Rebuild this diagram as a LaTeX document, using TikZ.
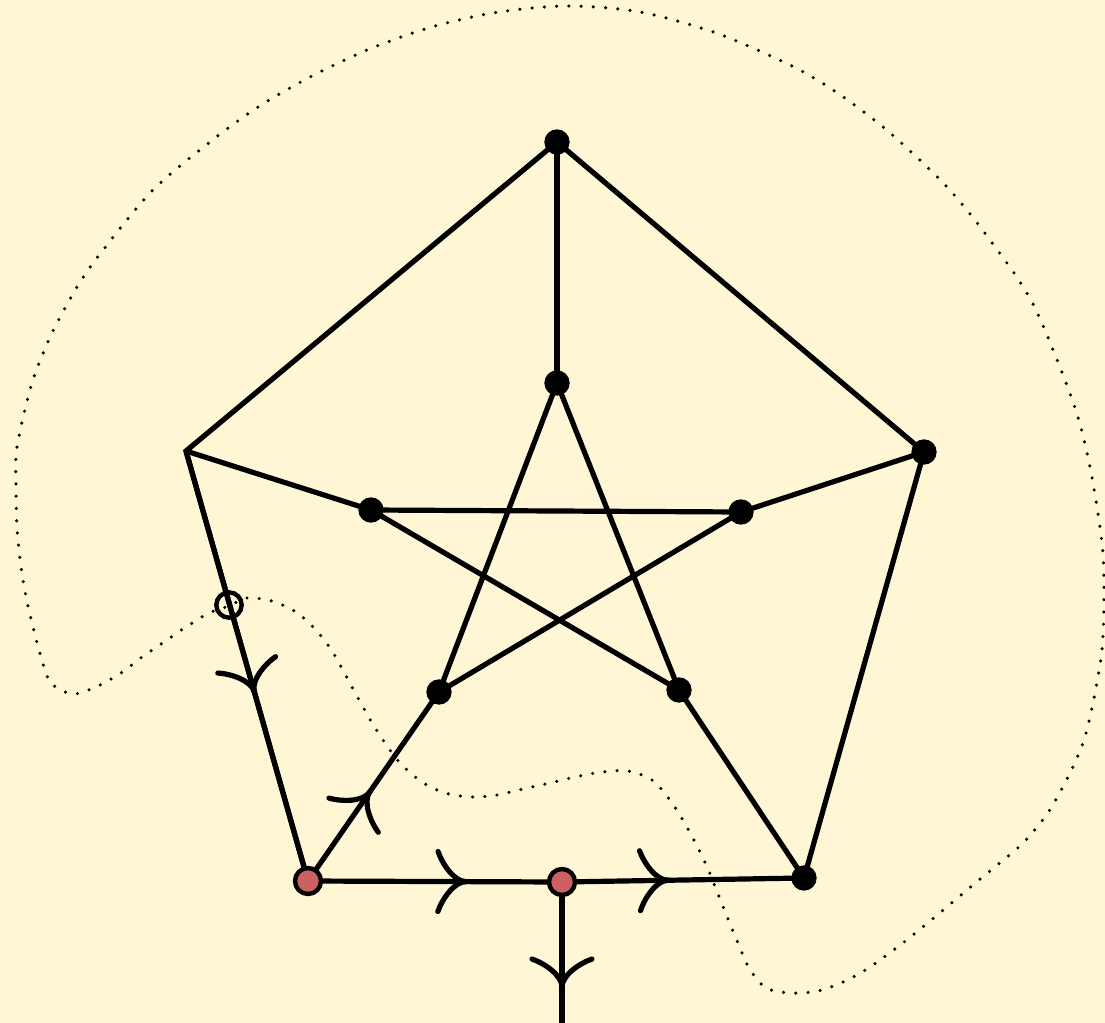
\documentclass[tikz,border=0pt]{standalone}
\usetikzlibrary{calc}
\definecolor{bgcream}{RGB}{255,246,214}
\definecolor{vred}{RGB}{205,96,96}
\tikzset{
  edge/.style={line width=3.9pt, line cap=butt, line join=miter},
  barbline/.style={line width=3.9pt, line cap=round},
  vtx/.style={circle, fill=black, inner sep=0pt, minimum size=19pt},
  rvtx/.style={circle, fill=vred, draw=black, line width=3.3pt, inner sep=0pt, minimum size=19.5pt},
  ovtx/.style={circle, draw=black, line width=3.3pt, inner sep=0pt, minimum size=19pt},
  dotcurve/.style={line width=2.6pt, line cap=round, dash pattern=on 0pt off 9.2pt},
  barb/.pic={\draw[barbline] (-28,-30) .. controls (-24,-18) and (-12,0) .. (0,0) .. controls (-12,0) and (-24,18) .. (-28,30);}
}
\begin{document}
\begin{tikzpicture}[x=0.75pt,y=-0.75pt]
\fill[bgcream] (0,0) rectangle (1105,1023);
\useasboundingbox (0,0) rectangle (1105,1023);
% vertex positions
\coordinate (T) at (557,142);
\coordinate (R) at (924,452);
\coordinate (BR) at (804,878);
\coordinate (BL) at (308,881);
\coordinate (L) at (186,451);
\coordinate (IT) at (557,383);
\coordinate (IR) at (741,512);
\coordinate (IBR) at (679,690);
\coordinate (IBL) at (439,692);
\coordinate (IL) at (371,510);
\coordinate (M) at (562,882);
\coordinate (S) at (562,1023);
\coordinate (O) at (229,605);
% dotted closed curve
\draw[dotcurve] plot[smooth cycle, tension=0.5] coordinates {
(229,606) (247,598) (272,601) (296,612) (316,630) (332,651) (345,674) (358,698) (371,721) (385,743) (401,764) (422,782) (445,793) (472,797) (497,795) (523,789) (550,783) (575,777) (602,772) (628,771) (652,780) (670,800) (684,822) (697,846) (708,869) (718,894) (728,919) (738,943) (749,968) (766,988) (792,993) (818,991) (843,982) (867,969) (899,946) (930,921) (961,895) (991,870) (1022,844) (1047,814) (1067,779) (1083,743) (1093,703) (1102,650) (1104,593) (1102,543) (1090,467) (1073,402) (1033,304) (990,240) (947,187) (889,132) (836,92) (790,65) (716,33) (640,12) (568,6) (499,12) (435,26) (372,48) (312,76) (255,109) (201,149) (150,193) (100,254) (77,287) (52,333) (32,383) (17,447) (16,487) (17,527) (21,567) (28,606) (41,657) (51,683) (73,694) (98,686) (121,673) (142,657) (164,642) (186,627) (209,613)};
% outer pentagon
\draw[edge] (BL) -- (L) -- (T) -- (R) -- (BR);
\draw[edge] (L) -- (BL) pic[pos=0.56, sloped]{barb};
\draw[edge] (BL) -- (M) pic[pos=0.622, sloped]{barb};
\draw[edge] (M) -- (BR) pic[pos=0.438, sloped]{barb};
\draw[edge] (M) -- (S) pic[pos=0.745, sloped]{barb};
% spokes
\draw[edge] (T) -- (IT);
\draw[edge] (L) -- (IL);
\draw[edge] (R) -- (IR);
\draw[edge] (BR) -- (IBR);
\draw[edge] (BL) -- (IBL) pic[pos=0.47, sloped]{barb};
% inner star
\draw[edge] (IT) -- (IBL);
\draw[edge] (IT) -- (IBR);
\draw[edge] (IL) -- (IR);
\draw[edge] (IL) -- (IBR);
\draw[edge] (IR) -- (IBL);
% vertices
\node[vtx] (nT) at (T) {};
\node[vtx] (nR) at (R) {};
\node[vtx] (nBR) at (BR) {};
\node[vtx] (nIT) at (IT) {};
\node[vtx] (nIR) at (IR) {};
\node[vtx] (nIBR) at (IBR) {};
\node[vtx] (nIBL) at (IBL) {};
\node[vtx] (nIL) at (IL) {};
\node[rvtx] (nBL) at (BL) {};
\node[rvtx] (nM) at (M) {};
\node[ovtx] (nO) at (O) {};
\end{tikzpicture}
\end{document}
